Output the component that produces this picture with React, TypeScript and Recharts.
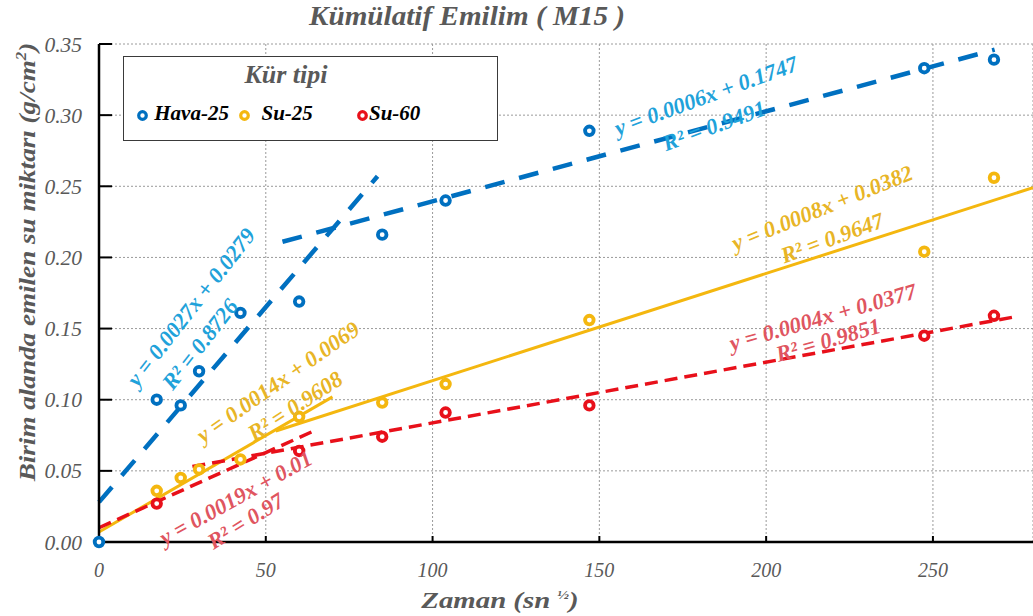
import React from "react";
import { ComposedChart, Line, Scatter, XAxis, YAxis, CartesianGrid, ReferenceDot } from "recharts";

// zaman (sn^1/2) and measured values per cure type
const zaman = [0, 17.3, 24.5, 30, 42.4, 60, 84.9, 103.9, 147, 247.4, 268.3];
const hava25 = [0, 0.1, 0.096, 0.12, 0.161, 0.169, 0.216, 0.24, 0.289, 0.333, 0.339];
const su25 = [null, 0.036, 0.045, 0.051, 0.058, 0.088, 0.098, 0.111, 0.156, 0.204, 0.256];
const su60 = [null, 0.027, null, null, null, 0.064, 0.074, 0.091, 0.096, 0.145, 0.159];

// trend line end points
const havaTrend1 = [{ x: 0, y: 0.028 }, { x: 83.5, y: 0.257 }];
const havaTrend2 = [{ x: 55, y: 0.211 }, { x: 268.5, y: 0.346 }];
const su25Trend1 = [{ x: 0, y: 0.007 }, { x: 70, y: 0.102 }];
const su25Trend2 = [{ x: 53, y: 0.078 }, { x: 280, y: 0.249 }];
const su60Trend1 = [{ x: 0, y: 0.01 }, { x: 65.3, y: 0.079 }];
const su60Trend2 = [{ x: 28, y: 0.053 }, { x: 274, y: 0.158 }];

const xTicks = [0, 50, 100, 150, 200, 250];
const yTicks = [0, 0.05, 0.1, 0.15, 0.2, 0.25, 0.3, 0.35];

// equation labels: [text, x, y, angle, color]
const equations: [string, number, number, number, string][] = [
  ["y = 0.0027x + 0.0279", 27.6, 0.165, -52, "#1FA2DA"],
  ["R² = 0.8726", 30.3, 0.139, -52, "#1FA2DA"],
  ["y = 0.0006x + 0.1747", 182, 0.3135, -20, "#1FA2DA"],
  ["R² = 0.9491", 184.4, 0.2925, -20, "#1FA2DA"],
  ["y = 0.0014x + 0.0069", 53.7, 0.1125, -35, "#E8B526"],
  ["R² = 0.9608", 58.8, 0.0956, -33, "#E8B526"],
  ["y = 0.0008x + 0.0382", 216.8, 0.2348, -22, "#E8B526"],
  ["R² = 0.9647", 219.8, 0.2137, -20, "#E8B526"],
  ["y = 0.0004x + 0.0377", 217, 0.158, -16, "#DF5560"],
  ["R² = 0.9851", 218.6, 0.142, -16, "#DF5560"],
  ["y = 0.0019x + 0.01", 41, 0.031, -29, "#DF5560"],
  ["R² = 0.97", 44, 0.0148, -32, "#DF5560"],
];

const toPoints = (vals: (number | null)[]) =>
  zaman.map((x, i) => ({ x, y: vals[i] })).filter((p) => p.y !== null);

const BLUE = "#0070C0";
const GOLD = "#F4B70F";
const RED = "#E8101A";
const FONT = "Liberation Serif, DejaVu Serif, serif";

const ring = (color: string) => (p: any) => (
  <circle cx={p.cx} cy={p.cy} r={4.3} fill="#fff" stroke={color} strokeWidth={3.8} />
);

const eqShape = (text: string, angle: number, color: string) => (p: any) => (
  <text
    x={p.cx}
    y={p.cy}
    transform={`rotate(${angle} ${p.cx} ${p.cy})`}
    textAnchor="middle"
    dominantBaseline="central"
    style={{ fontFamily: FONT, fontStyle: "italic", fontWeight: "bold", fontSize: 22.5 }}
    fill={color}
  >
    {text}
  </text>
);

const LegendRing = ({ color }: { color: string }) => (
  <svg width={13} height={13} style={{ verticalAlign: "middle" }}>
    <circle cx={6.5} cy={6.5} r={3.8} fill="#fff" stroke={color} strokeWidth={3.2} />
  </svg>
);

const xTickStyle = { fontSize: 20, fill: "#595959", fontStyle: "italic", fontFamily: FONT };
const yTickStyle = { fontSize: 21.5, fill: "#595959", fontStyle: "italic", fontFamily: FONT };

const titleStyle = (size: number): React.CSSProperties => ({
  position: "absolute",
  whiteSpace: "nowrap",
  fontSize: size,
  fontWeight: "bold",
  fontStyle: "italic",
  color: "#595959",
  lineHeight: 1,
});

const App = () => {
  return (
    <div style={{ position: "absolute", left: 0, top: 0, width: 1033, height: 616, background: "#fff", fontFamily: FONT }}>
      <ComposedChart width={1033} height={616} margin={{ top: 44, right: 0, left: 39, bottom: 44 }} style={{ fontFamily: FONT }}>
        <CartesianGrid stroke="#9a9a9a" strokeDasharray="2 2" strokeWidth={1} />
        <XAxis
          type="number"
          dataKey="x"
          domain={[0, 280]}
          ticks={xTicks}
          height={30}
          axisLine={{ stroke: "#000", strokeWidth: 2.5 }}
          tickLine={{ stroke: "#000", strokeWidth: 2 }}
          tickSize={-6}
          tickMargin={27}
          tick={xTickStyle}
        />
        <YAxis
          type="number"
          domain={[0, 0.35]}
          ticks={yTicks}
          width={60}
          tickFormatter={(v: number) => v.toFixed(2)}
          axisLine={{ stroke: "#000", strokeWidth: 2.5 }}
          tickLine={{ stroke: "#000", strokeWidth: 2 }}
          tickSize={-13}
          tickMargin={30}
          tick={yTickStyle}
        />
        <Line data={su25Trend1} dataKey="y" stroke={GOLD} strokeWidth={3} dot={false} isAnimationActive={false} />
        <Line data={su25Trend2} dataKey="y" stroke={GOLD} strokeWidth={3} dot={false} isAnimationActive={false} />
        <Line data={su60Trend1} dataKey="y" stroke={RED} strokeWidth={3.5} strokeDasharray="13 7" dot={false} isAnimationActive={false} />
        <Line data={su60Trend2} dataKey="y" stroke={RED} strokeWidth={3.5} strokeDasharray="13 7" dot={false} isAnimationActive={false} />
        <Line data={havaTrend1} dataKey="y" stroke={BLUE} strokeWidth={4.5} strokeDasharray="20 15" dot={false} isAnimationActive={false} />
        <Line data={havaTrend2} dataKey="y" stroke={BLUE} strokeWidth={4.5} strokeDasharray="20 15" dot={false} isAnimationActive={false} />
        <Scatter data={toPoints(su60)} dataKey="y" shape={ring(RED)} isAnimationActive={false} />
        <Scatter data={toPoints(su25)} dataKey="y" shape={ring(GOLD)} isAnimationActive={false} />
        <Scatter data={toPoints(hava25)} dataKey="y" shape={ring(BLUE)} isAnimationActive={false} />
        {equations.map(([t, x, y, a, c], i) => (
          <ReferenceDot key={i} x={x} y={y} r={0} ifOverflow="visible" shape={eqShape(t, a, c)} />
        ))}
      </ComposedChart>

      <div style={{ ...titleStyle(27), left: 467, top: 16, transform: "translate(-50%, -50%) scaleX(1.08)" }}>
        Kümülatif Emilim ( M15 )
      </div>
      <div style={{ ...titleStyle(24), left: 500, top: 600, transform: "translate(-50%, -50%) scaleX(1.2)" }}>
        Zaman (sn <sup style={{ fontSize: 13 }}>½</sup>)
      </div>
      <div style={{ ...titleStyle(24), left: 26, top: 262, transform: "translate(-50%, -50%) rotate(-90deg) scaleX(1.13)" }}>
        Birim alanda emilen su miktarı (g/cm<sup style={{ fontSize: 15 }}>2</sup>)
      </div>

      <div style={{ position: "absolute", left: 123, top: 56, width: 373, height: 83, border: "1.5px solid #3a3a3a", background: "#fff" }}>
        <div style={{ ...titleStyle(26), left: 162, top: 18, transform: "translate(-50%, -50%)" }}>
          Kür tipi
        </div>
        <div style={{ position: "absolute", left: 12, top: 44, fontSize: 21, fontWeight: "bold", fontStyle: "italic", color: "#000", whiteSpace: "nowrap" }}>
          <LegendRing color={BLUE} /> Hava-25
        </div>
        <div style={{ position: "absolute", left: 114, top: 44, fontSize: 21, fontWeight: "bold", fontStyle: "italic", color: "#000", whiteSpace: "nowrap" }}>
          <LegendRing color={GOLD} />&nbsp; Su-25
        </div>
        <div style={{ position: "absolute", left: 232, top: 44, fontSize: 21, fontWeight: "bold", fontStyle: "italic", color: "#000", whiteSpace: "nowrap" }}>
          <LegendRing color={RED} />Su-60
        </div>
      </div>
    </div>
  );
};

export default App;
